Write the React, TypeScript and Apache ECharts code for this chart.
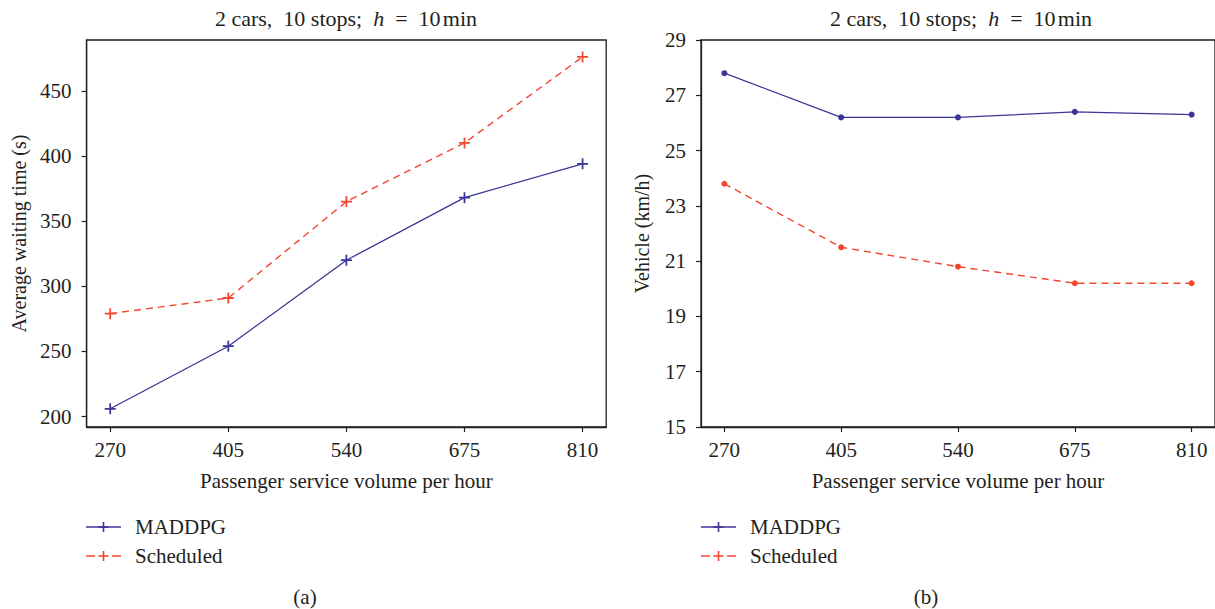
import React, { useEffect, useRef } from "react";
import * as echarts from "echarts";

const volumes = [270, 405, 540, 675, 810];
const waitMADDPG = [206, 254, 320, 368, 394];
const waitScheduled = [279, 291, 365, 410, 476];
const speedMADDPG = [27.8, 26.2, 26.2, 26.4, 26.3];
const speedScheduled = [23.8, 21.5, 20.8, 20.2, 20.2];
const waitTicks = [200, 250, 300, 350, 400, 450];
const speedTicks = [15, 17, 19, 21, 23, 25, 27, 29];
const seriesNames = ["MADDPG", "Scheduled"];
const panelLabels = ["(a)", "(b)"];
const xName = "Passenger service volume per hour";
const yNames = ["Average waiting time (s)", "Vehicle (km/h)"];

const BLUE = "#3b3596";
const RED = "#f2462f";
const INK = "#231f20";
const FONT = "'Liberation Serif', 'Times New Roman', serif";
const PLUS = "path://M4.2,0H5.8V4.2H10V5.8H5.8V10H4.2V5.8H0V4.2H4.2Z";

function pairs(xs: number[], ys: number[]) {
  return xs.map((x, i) => [x, ys[i]]);
}

function xAxisCfg(gridIndex: number) {
  return {
    type: "value",
    gridIndex,
    min: 243,
    max: 837,
    axisLine: { show: true, onZero: false, lineStyle: { color: INK, width: 1.3 } },
    axisTick: { show: true, customValues: volumes, length: 5, lineStyle: { color: INK, width: 1.2 } },
    axisLabel: { customValues: volumes, margin: 12, fontSize: 21, fontFamily: FONT, color: INK },
    splitLine: { show: false },
    name: xName,
    nameLocation: "middle",
    nameGap: 43,
    nameTextStyle: { fontSize: 21, fontFamily: FONT, color: INK },
  };
}

function yAxisCfg(gridIndex: number, min: number, max: number, ticks: number[], name: string, gap: number) {
  return {
    type: "value",
    gridIndex,
    min,
    max,
    axisLine: { show: true, onZero: false, lineStyle: { color: INK, width: 1.3 } },
    axisTick: { show: true, customValues: ticks, length: 5, lineStyle: { color: INK, width: 1.2 } },
    axisLabel: { customValues: ticks, margin: 15, fontSize: 21, fontFamily: FONT, color: INK },
    splitLine: { show: false },
    name,
    nameLocation: "middle",
    nameGap: gap,
    nameTextStyle: { fontSize: 20, fontFamily: FONT, color: INK },
  };
}

function legendGraphics(x0: number) {
  const y1 = 527;
  const y2 = 556;
  const w = 35;
  const cx = x0 + w / 2;
  const plus = (cx: number, cy: number, color: string) => [
    { type: "line", shape: { x1: cx - 5, y1: cy, x2: cx + 5, y2: cy }, style: { stroke: color, lineWidth: 1.6 } },
    { type: "line", shape: { x1: cx, y1: cy - 5, x2: cx, y2: cy + 5 }, style: { stroke: color, lineWidth: 1.6 } },
  ];
  return [
    { type: "line", shape: { x1: x0, y1, x2: x0 + w, y2: y1 }, style: { stroke: BLUE, lineWidth: 1.3 } },
    ...plus(cx, y1, BLUE),
    { type: "line", shape: { x1: x0, y1: y2, x2: x0 + 9, y2 }, style: { stroke: RED, lineWidth: 1.5 } },
    { type: "line", shape: { x1: x0 + w - 9, y1: y2, x2: x0 + w, y2 }, style: { stroke: RED, lineWidth: 1.5 } },
    ...plus(cx, y2, RED),
    {
      type: "text", x: x0 + 49, y: y1,
      style: { text: seriesNames[0], fontSize: 21, fontFamily: FONT, fill: INK, verticalAlign: "middle", align: "left" },
    },
    {
      type: "text", x: x0 + 49, y: y2,
      style: { text: seriesNames[1], fontSize: 21, fontFamily: FONT, fill: INK, verticalAlign: "middle", align: "left" },
    },
  ];
}

function titleGraphic(cx: number) {
  return {
    type: "text",
    x: cx,
    y: 18,
    style: {
      text: "{n|2 cars,  10 stops;  }{i|h}{n|  =  10}{t| }{n|min}",
      fontSize: 22,
      fontFamily: FONT,
      fill: INK,
      align: "center",
      verticalAlign: "middle",
      rich: {
        n: { fontSize: 22, fontFamily: FONT, fill: INK, color: INK },
        i: { fontSize: 22, fontFamily: FONT, fontStyle: "italic", fill: INK, color: INK },
        t: { fontSize: 9, fontFamily: FONT, fill: INK, color: INK },
      },
    },
  };
}

export default function App() {
  const ref = useRef<HTMLDivElement>(null);
  useEffect(() => {
    if (!ref.current) return;
    const chart = echarts.init(ref.current, null, { renderer: "svg" });
    const option: any = {
      animation: false,
      backgroundColor: "#ffffff",
      grid: [
        { left: 86.6, top: 40, width: 519.6, height: 387, show: true, borderColor: INK, borderWidth: 1.3, containLabel: false },
        { left: 701, top: 40, width: 520, height: 387, show: true, borderColor: INK, borderWidth: 1.3, containLabel: false },
      ],
      xAxis: [xAxisCfg(0), xAxisCfg(1)],
      yAxis: [
        yAxisCfg(0, 192, 489, waitTicks, yNames[0], 58),
        yAxisCfg(1, 15, 29, speedTicks, yNames[1], 49),
      ],
      series: [
        {
          name: seriesNames[0], type: "line", xAxisIndex: 0, yAxisIndex: 0,
          data: pairs(volumes, waitMADDPG),
          symbol: PLUS, symbolSize: 11,
          lineStyle: { color: BLUE, width: 1.3 }, itemStyle: { color: BLUE },
        },
        {
          name: seriesNames[1], type: "line", xAxisIndex: 0, yAxisIndex: 0,
          data: pairs(volumes, waitScheduled),
          symbol: PLUS, symbolSize: 11,
          lineStyle: { color: RED, width: 1.4, type: [7, 5] }, itemStyle: { color: RED },
        },
        {
          name: seriesNames[0], type: "line", xAxisIndex: 1, yAxisIndex: 1,
          data: pairs(volumes, speedMADDPG),
          symbol: "circle", symbolSize: 6,
          lineStyle: { color: BLUE, width: 1.3 }, itemStyle: { color: BLUE },
        },
        {
          name: seriesNames[1], type: "line", xAxisIndex: 1, yAxisIndex: 1,
          data: pairs(volumes, speedScheduled),
          symbol: "circle", symbolSize: 6,
          lineStyle: { color: RED, width: 1.4, type: [7, 5] }, itemStyle: { color: RED },
        },
      ],
      graphic: [
        titleGraphic(346),
        titleGraphic(961),
        ...legendGraphics(86),
        ...legendGraphics(701),
        {
          type: "text", x: 305, y: 597,
          style: { text: panelLabels[0], fontSize: 21, fontFamily: FONT, fill: INK, align: "center", verticalAlign: "middle" },
        },
        {
          type: "text", x: 926, y: 597,
          style: { text: panelLabels[1], fontSize: 21, fontFamily: FONT, fill: INK, align: "center", verticalAlign: "middle" },
        },
      ],
    };
    chart.setOption(option);
    return () => chart.dispose();
  }, []);
  return (
    <div
      ref={ref}
      style={{ position: "fixed", left: 0, top: 0, width: 1215, height: 609, background: "#fff" }}
    />
  );
}
